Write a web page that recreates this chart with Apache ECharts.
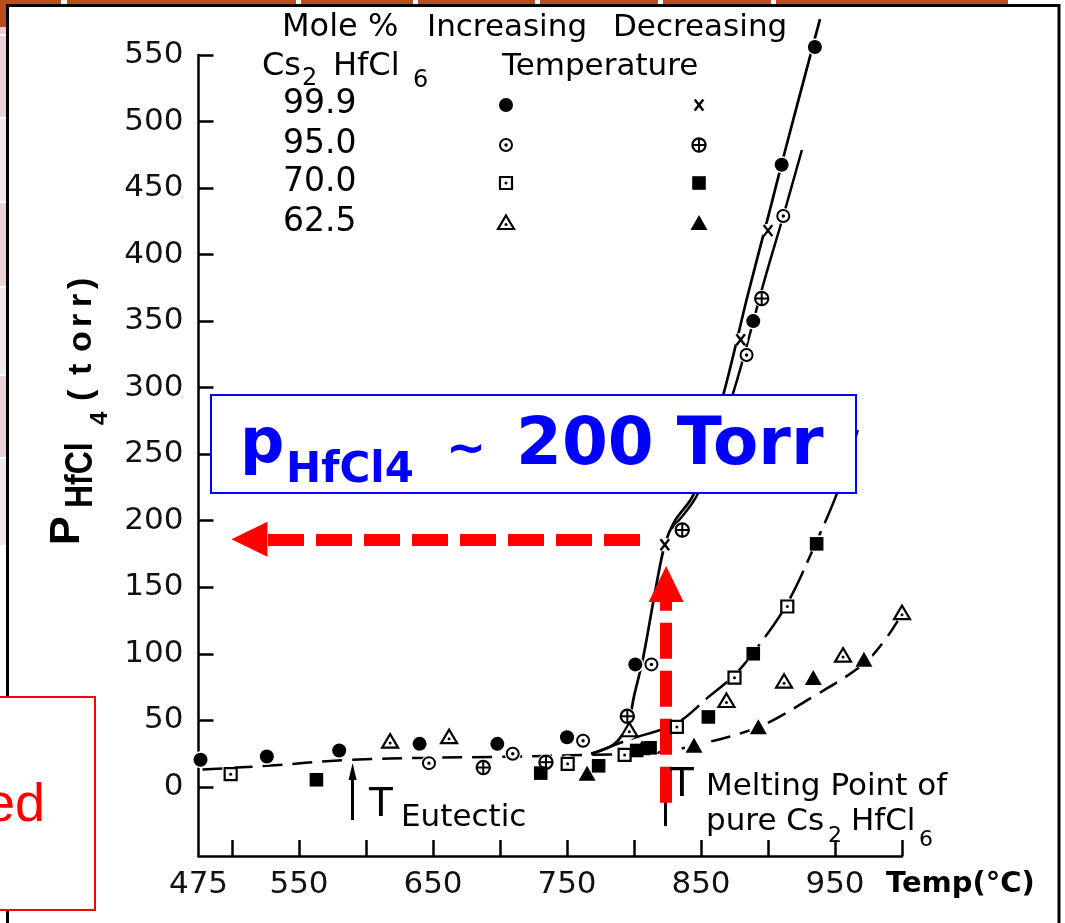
<!DOCTYPE html>
<html>
<head>
<meta charset="utf-8">
<script src="https://cdn.jsdelivr.net/npm/echarts@6/dist/echarts.min.js"></script>
<style>
  html, body { margin: 0; padding: 0; background: #fff; }
  #chart { width: 1065px; height: 923px; }
</style>
</head>
<body>
<div id="chart"></div>
<script>
// ---------- axis ticks and labels ----------
const xTickValues = [500, 550, 600, 650, 700, 750, 800, 850, 900, 950, 1000];
const xLabelValues = [475, 550, 650, 750, 850, 950];
const yTickValues = [0, 50, 100, 150, 200, 250, 300, 350, 400, 450, 500, 550];

// ---------- measured vapour pressures: [temperature °C, p(HfCl4) torr] ----------
const inc999 = [[476.5, 20.3], [526, 22.8], [580, 27.3], [640, 32.3], [698, 32.3], [750, 37.3], [801, 92], [889, 350], [910.2, 467.5], [935, 556]];
const dec999 = [[823, 182], [879.6, 336], [900, 418]];
const inc950 = [[647, 17.8], [709.5, 24.8], [762, 34.6], [813, 92], [884, 324.5], [911.4, 429]];
const dec950 = [[687.5, 14.5], [734.3, 18.5], [795, 53], [836, 193], [895.3, 367]];
const inc700 = [[499, 9.5], [750.5, 17.3], [793, 24], [832, 45], [875, 82], [914.4, 135.5]];
const dec700 = [[563, 5.3], [730.4, 10.3], [773.6, 15.8], [802, 27.3], [812, 29.3], [855.5, 52.5], [889, 100], [936.3, 182.6]];
const inc625 = [[618, 34], [662, 37.3], [796.5, 42.5], [869, 64.5], [912, 79], [956, 98.6], [1000, 130.5]];
const dec625 = [[765, 9.8], [806, 29], [844.8, 30.8], [892.8, 44.8], [933.8, 81.7], [971.6, 95.4]];

// ---------- hand-drawn trend curves ----------
const curveBase = [[478, 13], [526, 15.8], [588, 20.3], [648, 21.8], [700, 22.5], [767, 24], [800, 24.8], [819, 26], [845, 31], [893, 45], [934, 68], [971, 92], [987, 110], [1000, 130]];
const curve999 = [[768, 25], [785, 32], [795, 46], [800, 68], [807, 98], [816, 148], [823, 182], [830, 199], [845, 221], [867, 296], [885, 370], [900, 428], [913, 479], [938.8, 577]];
const curve950 = [[828, 194], [848, 221], [874, 296], [898, 383], [911.4, 429], [925.3, 478.6]];
const curve700 = [[768, 24.5], [795, 35], [832, 48], [855, 67], [875, 84], [890, 102], [914, 137], [936, 184], [952, 222], [967, 268]];

// ---------- annotation values ----------
const eutecticC = 590;
const meltingC = 824;
const pressureAtMelt = 186;

// ---------- legend rows ----------
const moleRows = ['99.9', '95.0', '70.0', '62.5'];

const INK = '#000';
const SANS = '"DejaVu Sans", sans-serif';
const LIB = '"Liberation Sans", sans-serif';

function markerShapes(kind, x, y) {
  const open = (w) => ({ stroke: INK, lineWidth: w, fill: '#fff' });
  const dot = (r) => ({ type: 'circle', shape: { cx: x, cy: y, r: r }, style: { fill: INK } });
  const seg = (x1, y1, x2, y2, w) => ({ type: 'line', shape: { x1: x1, y1: y1, x2: x2, y2: y2 }, style: { stroke: INK, lineWidth: w } });
  switch (kind) {
    case 'dot':
      return [dot(7)];
    case 'cross':
      return [seg(x - 4.3, y - 5.5, x + 4.3, y + 5.5, 2.4), seg(x + 4.3, y - 5.5, x - 4.3, y + 5.5, 2.4)];
    case 'ring':
      return [{ type: 'circle', shape: { cx: x, cy: y, r: 6 }, style: open(2) }, dot(1.7)];
    case 'ringPlus':
      return [{ type: 'circle', shape: { cx: x, cy: y, r: 6.6 }, style: open(2.2) },
              seg(x - 6.6, y, x + 6.6, y, 2), seg(x, y - 6.6, x, y + 6.6, 2)];
    case 'square':
      return [{ type: 'rect', shape: { x: x - 6, y: y - 6, width: 12, height: 12 }, style: open(2.2) }, dot(1.5)];
    case 'squareFilled':
      return [{ type: 'rect', shape: { x: x - 6.8, y: y - 6.8, width: 13.6, height: 13.6 }, style: { fill: INK } }];
    case 'triangle':
      return [{ type: 'polygon', shape: { points: [[x, y - 7.5], [x + 8, y + 6], [x - 8, y + 6]] }, style: open(2.2) },
              { type: 'circle', shape: { cx: x, cy: y + 1.5, r: 1.5 }, style: { fill: INK } }];
    case 'triangleFilled':
      return [{ type: 'polygon', shape: { points: [[x, y - 8], [x + 8.5, y + 7], [x - 8.5, y + 7]] }, style: { fill: INK } }];
  }
  return [];
}

const markerSets = [
  { name: '99.9 increasing', data: inc999, kind: 'dot', halo: 8.5 },
  { name: '99.9 decreasing', data: dec999, kind: 'cross', halo: 7 },
  { name: '95.0 increasing', data: inc950, kind: 'ring', halo: 8 },
  { name: '95.0 decreasing', data: dec950, kind: 'ringPlus', halo: 8.5 },
  { name: '70.0 increasing', data: inc700, kind: 'square', halo: 8.5 },
  { name: '70.0 decreasing', data: dec700, kind: 'squareFilled', halo: 9 },
  { name: '62.5 increasing', data: inc625, kind: 'triangle', halo: 9 },
  { name: '62.5 decreasing', data: dec625, kind: 'triangleFilled', halo: 9.5 }
];

const haloData = markerSets.flatMap(s => s.data.map(p => [p[0], p[1], s.halo]));

function curveSeries(name, data, width, dash) {
  return {
    type: 'line', name: name, data: data, showSymbol: false, symbol: 'none',
    smooth: 0.35, clip: false, silent: true, z: 3,
    lineStyle: { color: INK, width: width, type: dash || 'solid', cap: 'butt' }
  };
}

const series = [
  curveSeries('eutectic / 62.5%', curveBase, 2.5, [20, 10]),
  curveSeries('99.9%', curve999, 2.7),
  curveSeries('95.0%', curve950, 2.5),
  curveSeries('70.0%', curve700, 2.5, [34, 9]),
  {
    type: 'custom', name: 'halo', data: haloData, z: 4, silent: true, clip: false,
    renderItem: function (params, api) {
      const p = api.coord([api.value(0), api.value(1)]);
      return { type: 'circle', shape: { cx: p[0], cy: p[1], r: api.value(2) }, style: { fill: '#fff' } };
    }
  }
];

markerSets.forEach(s => {
  series.push({
    type: 'custom', name: s.name, data: s.data, z: 5, silent: true, clip: false,
    renderItem: function (params, api) {
      const p = api.coord([api.value(0), api.value(1)]);
      return { type: 'group', children: markerShapes(s.kind, p[0], p[1]) };
    }
  });
});

// black arrow marking the eutectic temperature, and the original melting-point tick
series.push({
  type: 'line', name: 'eutectic arrow', data: [], z: 6, silent: true,
  markLine: {
    silent: true, animation: false, label: { show: false },
    symbol: ['none', 'triangle'], symbolSize: [8, 17],
    lineStyle: { color: INK, width: 3, type: 'solid' },
    data: [[{ coord: [eutecticC, -25] }, { coord: [eutecticC, 11.5] }]]
  }
});
series.push({
  type: 'line', name: 'melting tick', data: [], z: 6, silent: true,
  markLine: {
    silent: true, animation: false, label: { show: false },
    symbol: ['none', 'none'],
    lineStyle: { color: INK, width: 3, type: 'solid' },
    data: [[{ coord: [meltingC - 0.8, -29.5] }, { coord: [meltingC - 0.8, -10] }]]
  }
});
// red dashed arrows reading the pressure at the melting point
series.push({
  type: 'line', name: 'melting-point reading', data: [], z: 20, silent: true,
  markLine: {
    silent: true, animation: false, label: { show: false },
    symbol: ['none', 'triangle'], symbolSize: [35, 36],
    lineStyle: { color: '#ff0000', width: 12, type: [36, 12], cap: 'butt', opacity: 1 },
    data: [
      [{ coord: [meltingC, -12] }, { coord: [meltingC, 152.5] }],
      [{ coord: [804.5, pressureAtMelt] }, { coord: [513, pressureAtMelt] }]
    ]
  }
});

// ---------- page furniture, header table and annotations ----------
function txt(text, x, y, size, opts) {
  opts = opts || {};
  return {
    type: 'text', x: x, y: y, z: opts.z || 50, scaleX: opts.scaleX || 1,
    style: {
      text: text, fill: opts.color || INK, fontSize: size,
      fontFamily: opts.family || SANS, fontWeight: opts.weight || 'normal',
      align: opts.align || 'left', verticalAlign: 'middle'
    }
  };
}

const graphics = [];
// slide background strips
const brown = '#bd4c1d';
[[0, 61], [67, 296], [301, 413], [418, 535], [540, 658], [663, 771], [776, 1008]].forEach(s =>
  graphics.push({ type: 'rect', z: 0, shape: { x: s[0], y: 0, width: s[1] - s[0], height: 5 }, style: { fill: brown } }));
graphics.push({ type: 'rect', z: 0, shape: { x: 0, y: 0, width: 6, height: 27 }, style: { fill: brown } });
[[27, 34, '#e7cfcf'], [36, 117, '#e8d3d3'], [119, 201, '#f2e7e7'], [203, 286, '#e8d3d3'], [288, 374, '#f2e7e7'], [376, 457, '#e8d3d3'], [459, 545, '#f2e7e7']].forEach(s =>
  graphics.push({ type: 'rect', z: 0, shape: { x: 0, y: s[0], width: 6, height: s[1] - s[0] }, style: { fill: s[2] } }));
// panel frame
graphics.push({ type: 'line', z: 1, shape: { x1: 6, y1: 5.5, x2: 1060, y2: 5.5 }, style: { stroke: INK, lineWidth: 3 } });
graphics.push({ type: 'line', z: 1, shape: { x1: 7.5, y1: 4, x2: 7.5, y2: 923 }, style: { stroke: INK, lineWidth: 3 } });
graphics.push({ type: 'line', z: 1, shape: { x1: 1059, y1: 4, x2: 1059, y2: 923 }, style: { stroke: INK, lineWidth: 3 } });

// header table
graphics.push(txt('Mole %', 282, 28, 32));
graphics.push(txt('Increasing', 427, 28, 31));
graphics.push(txt('Decreasing', 613, 28, 31));
graphics.push(txt('Cs', 262, 67, 32));
graphics.push(txt('2', 302, 79, 24));
graphics.push(txt('HfCl', 333, 67, 32));
graphics.push(txt('6', 413, 81, 24));
graphics.push(txt('Temperature', 502, 67, 31));
const rowY = [105, 145, 183, 223];
moleRows.forEach((r, i) => {
  graphics.push(txt(r, 283, rowY[i] - 1, 33));
  markerSets[2 * i].legend = [506, rowY[i]];
  markerSets[2 * i + 1].legend = [699, rowY[i]];
});
markerSets.forEach(s => {
  graphics.push({ type: 'group', z: 50, children: markerShapes(s.kind, s.legend[0], s.legend[1]) });
});

// y axis title, reading upwards
graphics.push({
  type: 'group', rotation: Math.PI / 2, x: 0, y: 0, z: 50,
  children: [
    txt('P', -545, 67, 43, { weight: 'bold', family: LIB }),
    txt('HfCl', -508, 82, 38, { weight: 'bold', family: LIB, scaleX: 0.84 }),
    txt('4', -425, 100, 24, { weight: 'bold', family: LIB }),
    txt('(', -401, 82, 34, { weight: 'bold', family: LIB }),
    txt('t', -375, 82, 34, { weight: 'bold', family: LIB }),
    txt('o', -352, 82, 34, { weight: 'bold', family: LIB }),
    txt('r', -327, 82, 34, { weight: 'bold', family: LIB }),
    txt('r', -307, 82, 34, { weight: 'bold', family: LIB }),
    txt(')', -289, 82, 34, { weight: 'bold', family: LIB })
  ]
});
// x axis title
graphics.push(txt('Temp(°C)', 886, 884, 29, { weight: 'bold' }));

// eutectic and melting point notes
graphics.push(txt('T', 369, 806, 39));
graphics.push(txt('Eutectic', 401, 818, 31));
graphics.push(txt('T', 670, 786, 39));
graphics.push(txt('Melting Point of', 706, 787, 31));
graphics.push(txt('pure Cs', 706, 822, 31));
graphics.push(txt('2', 828, 836, 22));
graphics.push(txt('HfCl', 851, 822, 31));
graphics.push(txt('6', 919, 840, 22));

// blue callout
graphics.push({ type: 'rect', z: 100, shape: { x: 211, y: 395, width: 645, height: 98 }, style: { fill: '#fff', stroke: '#0000ff', lineWidth: 2 } });
const BLUE = '#0000ff';
graphics.push(txt('p', 240, 446, 62, { color: BLUE, weight: 'bold', z: 101 }));
graphics.push(txt('HfCl4', 286, 471, 42, { color: BLUE, weight: 'bold', z: 101 }));
graphics.push(txt('~', 446, 452, 48, { color: BLUE, weight: 'bold', z: 101 }));
graphics.push(txt('200 Torr', 516, 447, 66, { color: BLUE, weight: 'bold', z: 101 }));

// red side box
graphics.push({ type: 'rect', z: 100, shape: { x: -20, y: 697, width: 115, height: 213 }, style: { fill: '#fff', stroke: '#ff0000', lineWidth: 2 } });
graphics.push(txt('ed', 45, 806, 54, { color: '#ff0000', align: 'right', family: LIB, z: 101 }));

const chart = echarts.init(document.getElementById('chart'), null, { renderer: 'canvas' });
chart.setOption({
  animation: false,
  backgroundColor: '#fff',
  grid: { left: 198.5, top: 55, width: 703.5, height: 801, outerBoundsMode: 'none', containLabel: false },
  xAxis: {
    type: 'value', min: 475, max: 1000,
    axisLine: { onZero: false, lineStyle: { color: INK, width: 2.5 } },
    axisTick: { inside: true, length: 16, customValues: xTickValues, lineStyle: { color: INK, width: 2.5 } },
    axisLabel: { customValues: xLabelValues, color: '#111', fontSize: 31, fontFamily: SANS, margin: 13 },
    splitLine: { show: false }
  },
  yAxis: {
    type: 'value', min: -52, max: 550,
    axisLine: { onZero: false, lineStyle: { color: INK, width: 2.5 } },
    axisTick: { inside: true, length: 15, customValues: yTickValues, lineStyle: { color: INK, width: 2.5 } },
    axisLabel: { customValues: yTickValues, color: '#111', fontSize: 31, fontFamily: SANS, margin: 15 },
    splitLine: { show: false }
  },
  graphic: { elements: graphics },
  series: series
});
</script>
</body>
</html>
